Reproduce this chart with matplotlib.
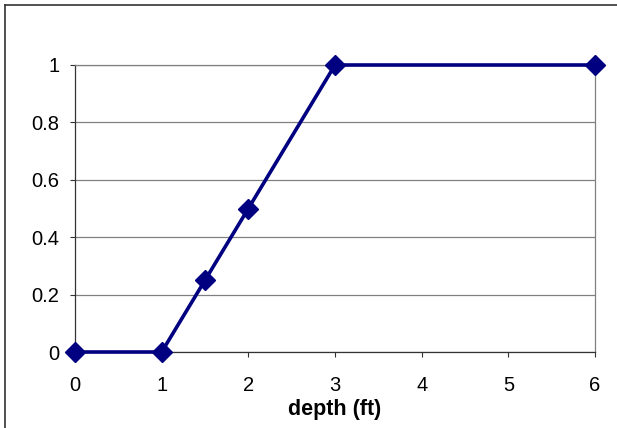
import matplotlib.pyplot as plt
from matplotlib.lines import Line2D

# data
depth = [0, 1, 1.5, 2, 3, 6]
value = [0, 0, 0.25, 0.5, 1, 1]
xticks = [0, 1, 2, 3, 4, 5, 6]
yticks = [0, 0.2, 0.4, 0.6, 0.8, 1]
ylabels = ['0', '0.2', '0.4', '0.6', '0.8', '1']

plt.rcParams['font.family'] = ['Liberation Sans', 'DejaVu Sans']

fig = plt.figure(figsize=(6.17, 4.28), dpi=100)
# outer chart border (only top and left fall inside the image)
fig.lines.append(Line2D([5 / 617, 1.0], [1 - 5 / 428, 1 - 5 / 428],
                        transform=fig.transFigure, color='#333333', linewidth=1.2))
fig.lines.append(Line2D([5 / 617, 5 / 617], [0.0, 1 - 5 / 428],
                        transform=fig.transFigure, color='#333333', linewidth=1.2))

ax = fig.add_axes([75 / 617, 1 - 352 / 428, 520 / 617, 287 / 428])
ax.plot(depth, value, color='#000080', linewidth=2.6, marker='D',
        markersize=10.5, markerfacecolor='#000080', markeredgecolor='#000080',
        markeredgewidth=1, clip_on=False, zorder=5)

ax.set_xlim(0, 6)
ax.set_ylim(0, 1)
ax.set_xticks(xticks)
ax.set_yticks(yticks)
ax.set_xticklabels([str(t) for t in xticks])
ax.set_yticklabels(ylabels)
ax.grid(axis='y', color='#808080', linewidth=0.9)
ax.set_axisbelow(True)

for s in ['top', 'right']:
    ax.spines[s].set_color('#808080')
    ax.spines[s].set_linewidth(0.9)
for s in ['left', 'bottom']:
    ax.spines[s].set_color('#333333')
    ax.spines[s].set_linewidth(0.9)

ax.tick_params(direction='out', length=3.8, width=0.8, color='#333333',
               labelsize=14.5)
ax.tick_params(axis='x', pad=13.5)
ax.tick_params(axis='y', pad=7.5)
ax.set_xlabel('depth (ft)', fontsize=15.5, fontweight='bold', labelpad=2.5)

fig.savefig('out.png', dpi=100)
